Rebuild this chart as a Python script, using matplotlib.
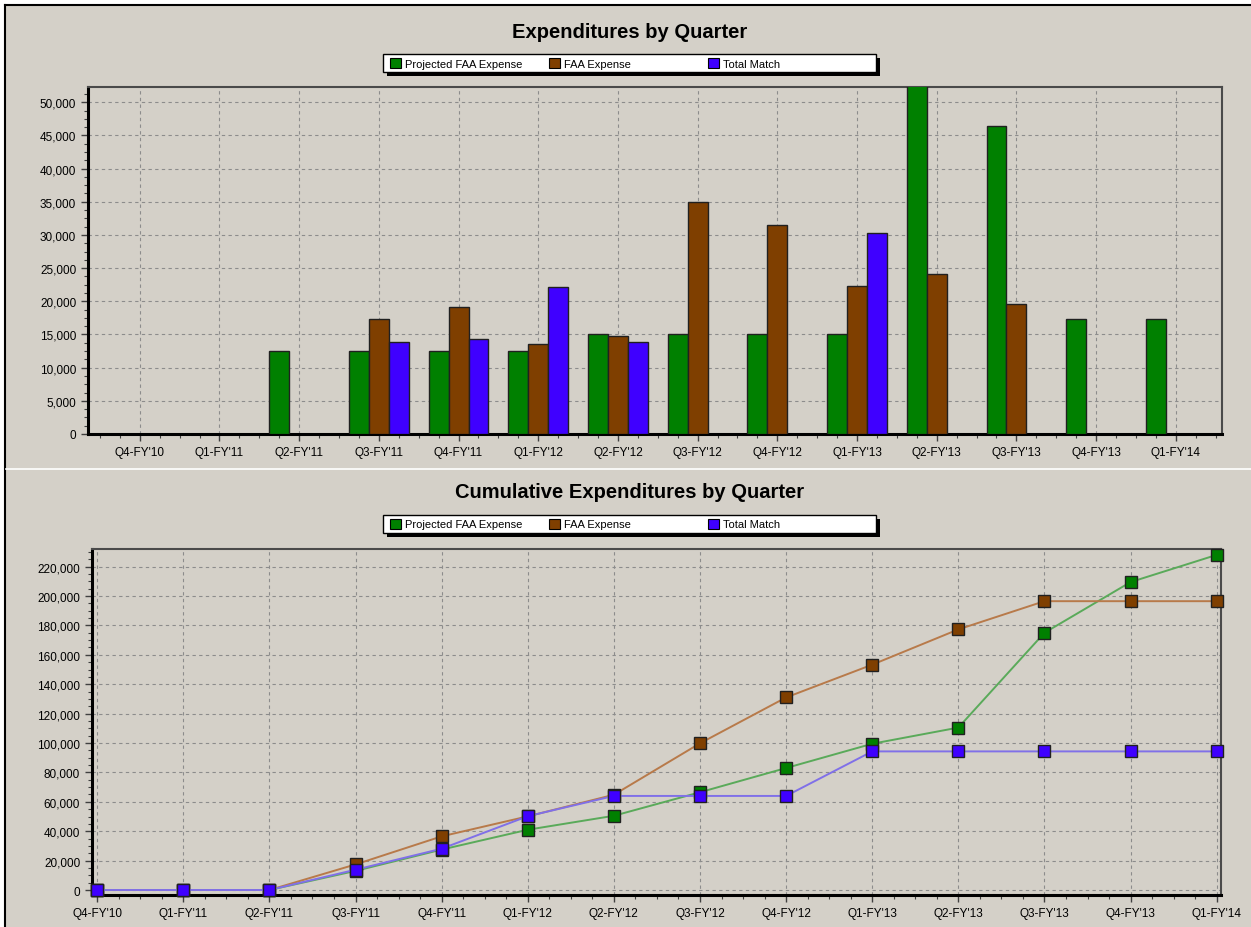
import matplotlib
matplotlib.use("Agg")
import matplotlib.pyplot as plt
from matplotlib.patches import Rectangle
from matplotlib.lines import Line2D
from matplotlib.ticker import FuncFormatter, MultipleLocator
import numpy as np

quarters = ["Q4-FY'10", "Q1-FY'11", "Q2-FY'11", "Q3-FY'11", "Q4-FY'11", "Q1-FY'12",
            "Q2-FY'12", "Q3-FY'12", "Q4-FY'12", "Q1-FY'13", "Q2-FY'13", "Q3-FY'13",
            "Q4-FY'13", "Q1-FY'14"]
series_names = ["Projected FAA Expense", "FAA Expense", "Total Match"]

projected = [0, 0, 12500, 12500, 12500, 12500, 15000, 15000, 15000, 15000, 65000, 46400, 17300, 17300]
faa_expense = [0, 0, 0, 17400, 19100, 13600, 14700, 35000, 31500, 22300, 24100, 19600, 0, 0]
total_match = [0, 0, 0, 13800, 14300, 22100, 13800, 0, 0, 30300, 0, 0, 0, 0]

cum_projected = [0, 0, 0, 13000, 27500, 41000, 50500, 66500, 83000, 99500, 110500, 175000, 209500, 228000]
cum_faa_expense = [0, 0, 0, 17400, 36500, 50100, 64800, 99800, 131000, 153300, 177300, 196500, 196500, 196500]
cum_total_match = [0, 0, 0, 13800, 28100, 50200, 64000, 64000, 64000, 94300, 94300, 94300, 94300, 94300]

bar_colors = ["#008000", "#7F3F00", "#3F00FF"]
line_colors = ["#5AAA5A", "#B87A4A", "#8070E8"]

W, H = 1251, 928
BG = "#D4D0C8"
plt.rcParams['font.family'] = ['Liberation Sans', 'DejaVu Sans']

fig = plt.figure(figsize=(W / 100, H / 100), dpi=100)
fig.patch.set_facecolor("white")


def fx(x):
    return x / W


def fy(y):
    return 1 - y / H


# panel background and border
fig.patches.append(Rectangle((fx(5), 0), 1 - fx(5), fy(6), transform=fig.transFigure,
                             facecolor=BG, edgecolor="none", zorder=-10))
fig.lines.append(Line2D([fx(5), fx(5)], [0, fy(6)], transform=fig.transFigure, color="black", lw=1.5))
fig.lines.append(Line2D([fx(5), 1], [fy(6), fy(6)], transform=fig.transFigure, color="black", lw=1.5))
fig.lines.append(Line2D([fx(6), 1], [fy(470), fy(470)], transform=fig.transFigure, color="white", lw=1.2))


def legend_box(y_top):
    x0, x1 = 383, 876
    h = 18
    fig.patches.append(Rectangle((fx(x0 + 4), fy(y_top + h + 4)), fx(x1 - x0), h / H,
                                 transform=fig.transFigure, facecolor="black", edgecolor="none", zorder=1))
    fig.patches.append(Rectangle((fx(x0), fy(y_top + h)), fx(x1 - x0), h / H,
                                 transform=fig.transFigure, facecolor="white", edgecolor="black", lw=1, zorder=2))
    xs = [390, 549, 708]
    for i, name in enumerate(series_names):
        fig.patches.append(Rectangle((fx(xs[i]), fy(y_top + 14)), fx(11), 10 / H, transform=fig.transFigure,
                                     facecolor=bar_colors[i], edgecolor="black", lw=0.8, zorder=3))
        fig.text(fx(xs[i] + 15), fy(y_top + h / 2 + 0.5), name, fontsize=8, va="center", ha="left", zorder=4)


def style_axes(ax):
    ax.set_facecolor(BG)
    ax.set_xticks(range(len(quarters)))
    ax.set_xticklabels(quarters, fontsize=8.5)
    ax.xaxis.set_minor_locator(MultipleLocator(0.25))
    ax.yaxis.set_major_formatter(FuncFormatter(lambda v, p: f"{int(v):,}"))
    ax.tick_params(axis="both", which="major", length=5, width=1, labelsize=8.5, color="#404040")
    ax.tick_params(axis="both", which="minor", length=3, width=0.8, color="#404040")
    ax.grid(True, which="major", color="#8C8C8C", linestyle=(0, (3, 3)), lw=0.8)
    ax.set_axisbelow(True)
    for s in ["left", "bottom"]:
        ax.spines[s].set_color("black")
        ax.spines[s].set_linewidth(2.2)
    for s in ["top", "right"]:
        ax.spines[s].set_color("#4A4A4A")
        ax.spines[s].set_linewidth(1.5)


# ---------------- top chart ----------------
fig.text(fx(630), fy(32), "Expenditures by Quarter", fontsize=14.5, fontweight="bold", ha="center", va="center")
legend_box(55)

ax1 = fig.add_axes([fx(88), fy(435), fx(1222 - 88), (435 - 88) / H])
style_axes(ax1)
x = np.arange(len(quarters))
bw = 0.25
for i, vals in enumerate([projected, faa_expense, total_match]):
    v = np.array(vals, dtype=float)
    m = v > 0
    ax1.bar(x[m] + (i - 1) * bw, v[m], width=bw, color=bar_colors[i], edgecolor="#202020", lw=1, zorder=3)
ax1.set_xlim(-0.65, 13.58)
ax1.set_ylim(0, 52300)
ax1.yaxis.set_major_locator(MultipleLocator(5000))
ax1.yaxis.set_minor_locator(MultipleLocator(1250))

# ---------------- bottom chart ----------------
fig.text(fx(630), fy(493), "Cumulative Expenditures by Quarter", fontsize=14.5, fontweight="bold",
         ha="center", va="center")
legend_box(516)

ax2 = fig.add_axes([fx(92), fy(896), fx(1221 - 92), (896 - 550) / H])
style_axes(ax2)
for i, vals in enumerate([cum_projected, cum_faa_expense, cum_total_match]):
    ax2.plot(x, vals, color=line_colors[i], lw=1.4, zorder=3 + i)
    ax2.plot(x, vals, linestyle="none", marker="s", markersize=8.5, markerfacecolor=bar_colors[i],
             markeredgecolor="#202020", markeredgewidth=1, zorder=3 + i, clip_on=False)
ax2.set_xlim(-0.06, 13.05)
ax2.set_ylim(-3400, 232000)
ax2.yaxis.set_major_locator(MultipleLocator(20000))
ax2.yaxis.set_minor_locator(MultipleLocator(5000))

fig.savefig("out.png", dpi=100, facecolor=fig.get_facecolor())
